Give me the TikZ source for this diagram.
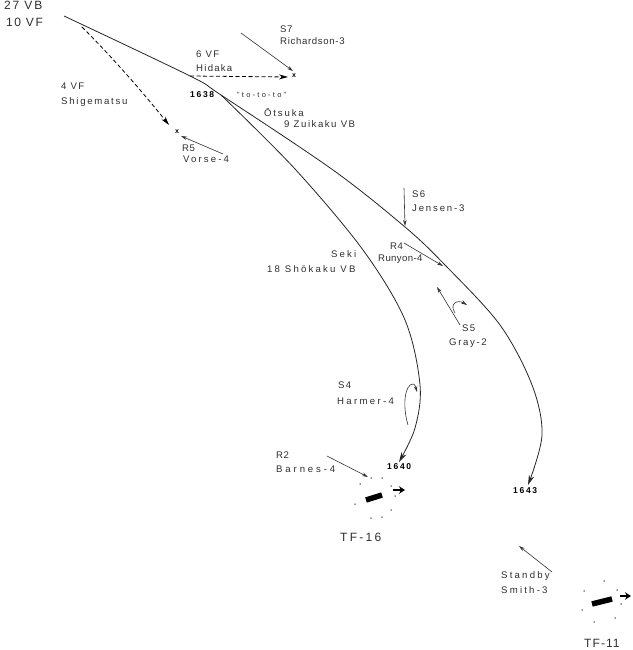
\documentclass[tikz,border=0pt]{standalone}
\usepackage{fontspec}
\setmainfont{Liberation Sans}
\usetikzlibrary{arrows.meta}
\definecolor{ink}{gray}{0.18}
\tikzset{
  x=1pt,y=-1pt,
  lbl/.style={anchor=west,inner sep=0pt,text=ink,font=\fontsize{9.6}{11}\selectfont\addfontfeature{LetterSpace=#1}},
  lbl/.default=6,
  biglbl/.style={anchor=west,inner sep=0pt,text=ink,font=\fontsize{12}{14}\selectfont\addfontfeature{LetterSpace=#1}},
  tim/.style={anchor=west,inner sep=0pt,text=black,font=\bfseries\fontsize{8.5}{10}\selectfont\addfontfeature{LetterSpace=20}},
  smalllbl/.style={anchor=west,inner sep=0pt,text=ink,font=\fontsize{#1}{9}\selectfont\addfontfeature{LetterSpace=30}},
  xmark/.style={inner sep=0pt,font=\bfseries\fontsize{7}{8}\selectfont,text=black},
  track/.style={draw=black!85,line width=0.8pt},
  trackarrow/.style={track,-{Stealth[length=10pt,width=5.5pt]}},
  raid/.style={draw=black!80,line width=0.6pt,-{Stealth[length=6pt,width=3.5pt]}},
  dashtrack/.style={draw=black,line width=0.8pt,dash pattern=on 4pt off 2.5pt,-{Stealth[length=9pt,width=5pt]}},
  ship/.style={draw=black,line width=5.5pt},
  heading/.style={draw=black,line width=2.6pt,-{Stealth[length=6pt,width=7.5pt]}},
  screen/.style={circle,fill=black!85,inner sep=0pt,minimum size=1.5pt},
}
\begin{document}
\begin{tikzpicture}
\useasboundingbox (0,0) rectangle (632,650);
% labels
\node[biglbl=15] (vb) at (4,5.5) {27 VB};
\node[biglbl=13] (vf) at (6,22) {10 VF};
\node[lbl] (s7a) at (280,29) {S7};
\node[lbl=7] (s7b) at (280,41) {Richardson-3};
\node[lbl=14] (hia) at (196,54) {6 VF};
\node[lbl=13] (hib) at (196,68) {Hidaka};
\node[lbl=14] (shia) at (61,86) {4 VF};
\node[lbl=18] (shib) at (61,102) {Shigematsu};
\node[tim] (t38) at (190,95) {1638};
\node[smalllbl=7.5] (toto) at (237,95) {"to-to-to"};
\node[lbl=19] (ot) at (264,113) {Ōtsuka};
\node[lbl=16] (zu) at (284,124) {9  Zuikaku VB};
\node[lbl=6] (r5a) at (182,148) {R5};
\node[lbl=22] (r5b) at (183,159) {Vorse-4};
\node[lbl=13] (s6a) at (412,194) {S6};
\node[lbl=19] (s6b) at (412,208) {Jensen-3};
\node[lbl] (r4a) at (390,246) {R4};
\node[lbl=4] (r4b) at (378,259) {Runyon-4};
\node[lbl=22] (sea) at (331,254) {Seki};
\node[lbl=23] (seb) at (267,269) {18 Shōkaku VB};
\node[lbl=13] (s5a) at (462,328) {S5};
\node[lbl=17] (s5b) at (449,343) {Gray-2};
\node[lbl=13] (s4a) at (338,385) {S4};
\node[lbl=24] (s4b) at (337,401) {Harmer-4};
\node[lbl] (r2a) at (276,455) {R2};
\node[lbl=30] (r2b) at (276,469) {Barnes-4};
\node[tim] (t40) at (387,467) {1640};
\node[biglbl=19] (tf16) at (340,537) {TF-16};
\node[tim] (t43) at (513,491) {1643};
\node[lbl=23] (sta) at (501,576) {Standby};
\node[lbl=23] (stb) at (501,590) {Smith-3};
\node[biglbl=9] (tf11) at (584,643) {TF-11};
\node[xmark] (x1) at (294,76) {x};
\node[xmark] (x2) at (177,132) {x};
% way points
\coordinate (start) at (64,16);
\coordinate (hs) at (190,76);
\coordinate (fork) at (221,95);
\coordinate (u1) at (333,170);
\coordinate (u2) at (405,227);
\coordinate (u3) at (445,265);
\coordinate (u4) at (500,325);
\coordinate (u5) at (532,385);
\coordinate (u6) at (542,435);
\coordinate (u7) at (528,485);
\coordinate (l1) at (295,169);
\coordinate (l2) at (363,250);
\coordinate (l3) at (405,320);
\coordinate (l4) at (420,385);
\coordinate (l5) at (415,428);
\coordinate (l6) at (399,462);
% tracks
\draw[trackarrow] plot[smooth,tension=0.55] coordinates {(start) (hs) (fork) (u1) (u2) (u3) (u4) (u5) (u6) (u7)};
\draw[trackarrow] plot[smooth,tension=0.55] coordinates {(fork) (l1) (l2) (l3) (l4) (l5) (l6)};
% dashed
\coordinate (ds) at (82,27);
\draw[dashtrack] (hs) -- (288,77);
\draw[dashtrack] (ds) .. controls (115,60) and (145,95) .. (169,125);
% strikes
\coordinate (s7s) at (241,33);
\draw[raid] (s7s) -- (293,71);
\coordinate (r5s) at (223,154);
\draw[raid] (r5s) -- (181,136);
\coordinate (s6s) at (404,188);
\draw[raid] (s6s) -- (405,226);
\coordinate (r4s) at (404,243);
\draw[raid] (r4s) -- (443,266);
\coordinate (s5s) at (460,325);
\draw[raid] (s5s) -- (437,287);
\coordinate (s5c) at (455,313);
\draw[raid] (s5c) .. controls (449,304) and (457,299) .. (467,305);
\coordinate (s4s) at (408,425);
\draw[raid] (s4s) .. controls (402,405) and (405,384) .. (413,384) .. controls (415,384) and (416,388) .. (417,392);
\coordinate (r2s) at (327,456);
\draw[raid] (r2s) -- (368,477);
\coordinate (sbs) at (552,572);
\draw[raid] (sbs) -- (519,546);
% TF-16
\coordinate (a1) at (366,500);
\coordinate (a2) at (382,495);
\draw[ship] (a1) -- (a2);
\coordinate (a3) at (393,490);
\draw[heading] (a3) -- (405,490);
\foreach \n/\x/\y in {1/360/484,2/371/478,3/382/478,4/391/486,5/395/496,6/391/510,7/382/517,8/371/518,9/355/504}
  \node[screen] (p\n) at (\x,\y) {};
% TF-11
\coordinate (b1) at (592,604);
\coordinate (b2) at (612,599);
\draw[ship] (b1) -- (b2);
\coordinate (b3) at (620,596);
\draw[heading] (b3) -- (631,596);
\foreach \n/\x/\y in {1/604/581,2/584/591,3/617/590,4/621/604,5/615/618,6/594/622,7/582/610}
  \node[screen] (q\n) at (\x,\y) {};
\end{tikzpicture}
\end{document}
